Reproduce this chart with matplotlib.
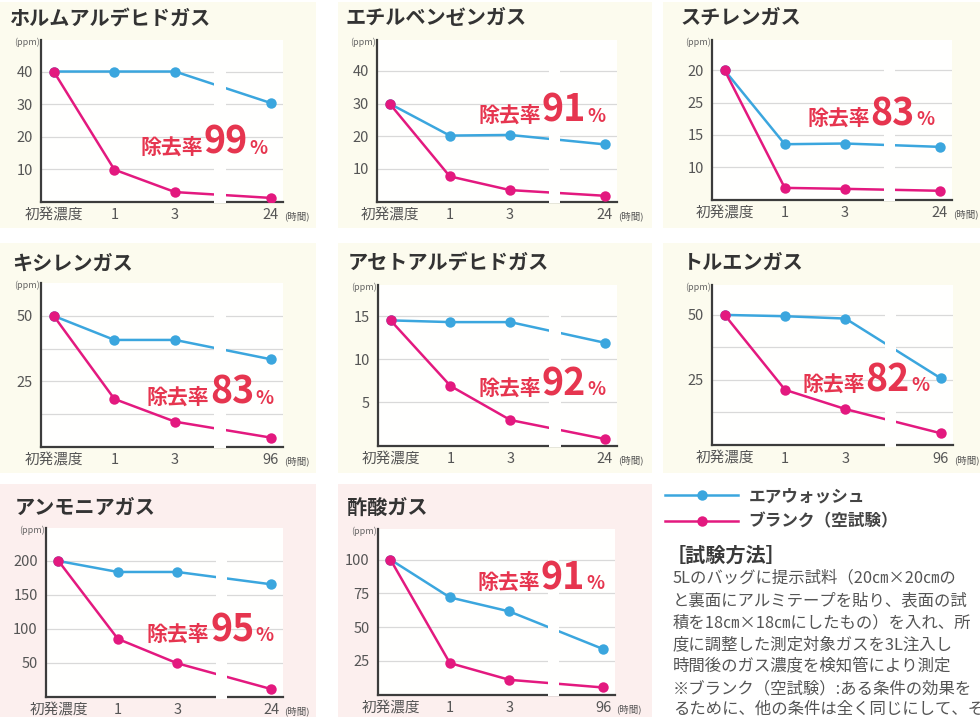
import matplotlib
matplotlib.use('Agg')
import matplotlib.pyplot as plt
from matplotlib.patches import Rectangle

plt.rcParams['font.family'] = ['Noto Sans CJK JP', 'DejaVu Sans']

W, H = 980, 717

# ---------------- data ----------------
titles = ['ホルムアルデヒドガス', 'エチルベンゼンガス', 'スチレンガス',
          'キシレンガス', 'アセトアルデヒドガス', 'トルエンガス',
          'アンモニアガス', '酢酸ガス']
x_labels_base = ['初発濃度', '1', '3']
last_hour = ['24', '24', '24', '96', '24', '96', '24', '96']

air_wash = [[40, 40, 40, 30.3],
            [30, 20.2, 20.4, 17.5],
            [20, 8.56, 8.67, 8.15],
            [50, 40.8, 40.8, 33.4],
            [14.5, 14.3, 14.3, 11.9],
            [50, 49.5, 48.6, 25.6],
            [200, 183.8, 183.8, 165.6],
            [100, 72, 61.6, 33.7]]
blank = [[40, 9.8, 2.9, 1.1],
         [30, 7.7, 3.5, 1.75],
         [20, 1.8, 1.65, 1.35],
         [50, 18.2, 9.5, 3.4],
         [14.5, 6.9, 2.95, 0.75],
         [50, 21.2, 13.8, 4.5],
         [200, 85, 49, 11],
         [100, 23.3, 10.9, 5.2]]
removal = ['99', '91', '83', '83', '92', '82', '95', '91']

ytick_vals = [[40, 30, 20, 10], [40, 30, 20, 10], [20, 15, 10, 5], [50, 25],
              [15, 10, 5], [50, 25], [200, 150, 100, 50], [100, 75, 50, 25]]
ytick_labels = [['40', '30', '20', '10'], ['40', '30', '20', '10'],
                ['20', '25', '15', '10'], ['50', '25'], ['15', '10', '5'],
                ['50', '25'], ['200', '150', '100', '50'],
                ['100', '75', '50', '25']]
grid_vals = [[40, 30, 20, 10], [40, 30, 20, 10], [20, 15, 10, 5],
             [50, 37.5, 25, 12.5], [15, 10, 5], [50, 37.5, 25, 12.5],
             [200, 150, 100, 50], [100, 75, 50, 25]]
ymax = [49.7, 49.5, 24.7, 62.6, 18.6, 61.5, 248.7, 122.7]

legend_labels = ['エアウォッシュ', 'ブランク（空試験）']
method_title = '［試験方法］'
method_lines = ['5Lのバッグに提示試料（20㎝×20㎝の',
                'と裏面にアルミテープを貼り、表面の試',
                '積を18㎝×18㎝にしたもの）を入れ、所',
                '度に調整した測定対象ガスを3L注入し',
                '時間後のガス濃度を検知管により測定',
                '※ブランク（空試験）:ある条件の効果を',
                'るために、他の条件は全く同じにして、そ']

# ---------------- layout (pixels) ----------------
x_pos = [0, 1, 2, 3.58]
xlim = (-0.21, 3.78)
brk = (2.65, 2.84)
axes_px = [(41, 40, 283, 201.5), (377, 40, 617, 201.5), (712, 40, 952, 199.5),
           (41, 283, 283, 446.5), (378, 285, 617, 445.5), (712, 285, 953, 445),
           (46, 528, 283, 696.5), (378, 529, 615, 694.5)]
title_px = [(10, 19), (345, 18), (680, 17), (12, 263), (348, 263), (683, 262),
            (15, 507), (347, 507)]
label_px = [(140, 154), (478, 122), (807, 125), (147, 404), (478, 395),
            (802, 391), (147, 641), (477, 589)]
CREAM = '#fcfbee'
PINK_BG = '#fcefee'
panels = [(0, 2, 316, 228, CREAM), (338, 2, 652, 228, CREAM), (663, 2, 980, 228, CREAM),
          (0, 243, 316, 473, CREAM), (338, 243, 652, 473, CREAM), (663, 243, 980, 473, CREAM),
          (0, 484, 316, 717, PINK_BG), (338, 484, 652, 717, PINK_BG)]

BLUE = '#3ba6de'
MAGENTA = '#e3197f'
RED = '#e6354f'
GRAY = '#555555'

fig = plt.figure(figsize=(W / 100, H / 100), dpi=100)
fig.patch.set_facecolor('white')

for (l, t, r, b, c) in panels:
    fig.add_artist(Rectangle((l / W, 1 - b / H), (r - l) / W, (b - t) / H,
                             transform=fig.transFigure, color=c, zorder=0, lw=0))

handles = None
for i in range(8):
    l, t, r, b = axes_px[i]
    ax = fig.add_axes([l / W, 1 - b / H, (r - l) / W, (b - t) / H])
    ax.set_facecolor('#fffffe')
    ax.set_xlim(*xlim)
    ax.set_ylim(0, ymax[i])
    for g in grid_vals[i]:
        ax.axhline(g, color='#d9d9d9', lw=0.9, zorder=1)
    hb, = ax.plot(x_pos, air_wash[i], color=BLUE, lw=1.8, marker='o', ms=7.5,
                  mew=0, zorder=3)
    hp, = ax.plot(x_pos, blank[i], color=MAGENTA, lw=1.8, marker='o', ms=7.5,
                  mew=0, zorder=3.1)
    if handles is None:
        handles = [hb, hp]
    ax.add_patch(Rectangle((brk[0], -0.012), brk[1] - brk[0], 1.012,
                           transform=ax.get_xaxis_transform(), color='#fffffe',
                           lw=0, zorder=4, clip_on=False))
    for s in ['top', 'right']:
        ax.spines[s].set_visible(False)
    for s in ['left', 'bottom']:
        ax.spines[s].set_color('#3c3c3c')
        ax.spines[s].set_linewidth(1.6)
    ax.set_yticks(ytick_vals[i], ytick_labels[i])
    ax.set_xticks(x_pos, x_labels_base + [last_hour[i]])
    ax.tick_params(axis='y', length=0, pad=6, labelsize=10.5, labelcolor=GRAY)
    ax.tick_params(axis='x', length=0, pad=5, labelsize=10.5, labelcolor=GRAY)
    ax.annotate('(時間)', xy=(1, 0), xycoords='axes fraction', xytext=(1, -11),
                textcoords='offset points', ha='left', va='center', fontsize=6.8,
                color=GRAY)
    ax.annotate('(ppm)', xy=(0, 1), xycoords='axes fraction', xytext=(-1, -1.5),
                textcoords='offset points', ha='right', va='center', fontsize=6.5,
                color='#666666')
    tx, ty = title_px[i]
    fig.text(tx / W, 1 - ty / H, titles[i], fontsize=14.5, weight='bold',
             color='#333333', va='center', ha='left')

renderer = fig.canvas.get_renderer()
for i in range(8):
    x0, yb = label_px[i]
    t1 = fig.text(x0 / W, 1 - yb / H, '除去率', fontsize=15, weight='bold',
                  color=RED, va='baseline', ha='left')
    w1 = t1.get_window_extent(renderer).width
    t2 = fig.text((x0 + w1 + 1) / W, 1 - yb / H, removal[i], fontsize=27,
                  weight='bold', color=RED, va='baseline', ha='left')
    w2 = t2.get_window_extent(renderer).width
    fig.text((x0 + w1 + w2 + 2) / W, 1 - yb / H, '%', fontsize=13.5,
             weight='bold', color=RED, va='baseline', ha='left')

fig.legend(handles, legend_labels, loc='upper left',
           bbox_to_anchor=(665 / W, 1 - 487 / H), frameon=False, borderpad=0,
           borderaxespad=0, handlelength=4.4, handletextpad=0.6,
           labelspacing=0.45, prop={'size': 12, 'weight': 'bold'},
           labelcolor='#444444', numpoints=1)

fig.text(666 / W, 1 - 555 / H, method_title, fontsize=14.5, weight='bold',
         color='#3a3a3a', va='center', ha='left')
line_y = [578.3, 600.5, 622.5, 644.5, 666.5, 688.5, 709]
for s, y in zip(method_lines, line_y):
    fig.text(673 / W, 1 - y / H, s, fontsize=11.8, color=GRAY, va='center',
             ha='left')

fig.savefig('out.png', dpi=100, facecolor='white')
